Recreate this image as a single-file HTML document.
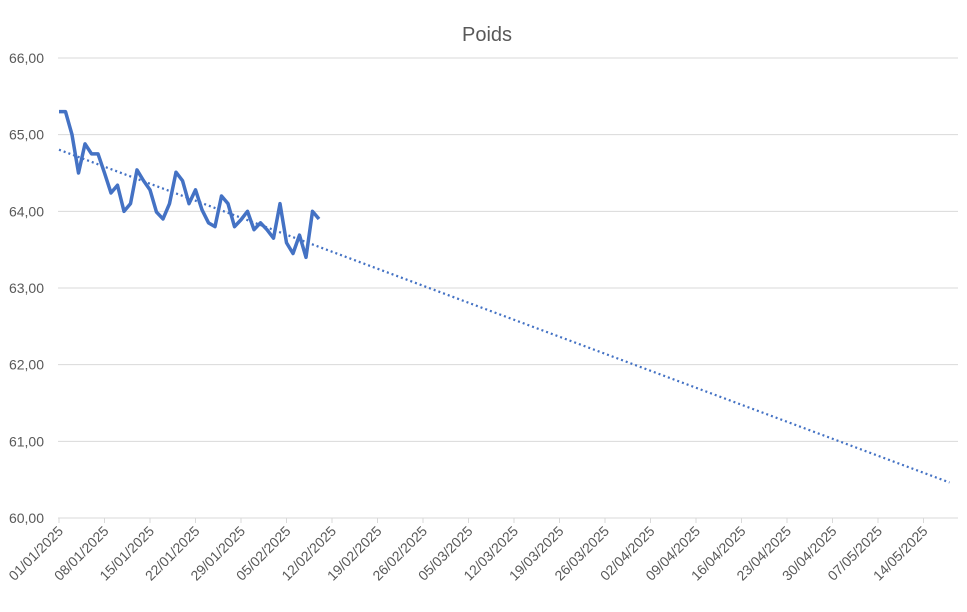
<!DOCTYPE html>
<html><head><meta charset="utf-8"><style>
body{margin:0;background:#fff;}
svg{display:block;font-family:"Liberation Sans",sans-serif;}
</style></head><body>
<svg id="chart" width="967" height="612">
<text x="487" y="41" text-anchor="middle" font-size="20" fill="#595959">Poids</text>
<g id="grid"></g><g id="xaxis"></g><g id="series"></g>
</svg>
<script>
const yTicks=[60,61,62,63,64,65,66];
const weights=[65.3,65.3,65.0,64.5,64.88,64.75,64.75,64.5,64.24,64.34,64.0,64.1,64.54,64.4,64.28,63.99,63.9,64.1,64.51,64.4,64.1,64.28,64.02,63.85,63.8,64.2,64.1,63.8,63.89,64.0,63.76,63.85,63.76,63.65,64.1,63.59,63.45,63.69,63.4,64.0,63.9];
const xTickLabels=["01/01/2025","08/01/2025","15/01/2025","22/01/2025","29/01/2025","05/02/2025","12/02/2025","19/02/2025","26/02/2025","05/03/2025","12/03/2025","19/03/2025","26/03/2025","02/04/2025","09/04/2025","16/04/2025","23/04/2025","30/04/2025","07/05/2025","14/05/2025"];
const trendEndDay=137;
const NS="http://www.w3.org/2000/svg";
const x=d=>59+d*6.5;
const y=v=>518-(v-60)*76.67;
function mk(t,a,p){const e=document.createElementNS(NS,t);for(const k in a)e.setAttribute(k,a[k]);p.appendChild(e);return e;}
const grid=document.getElementById('grid');
yTicks.forEach(v=>{
 const l=mk('line',{x1:58,x2:958,y1:y(v),y2:y(v),stroke:'#d9d9d9','stroke-width':1},grid);
 
 
 const t=mk('text',{x:44,y:y(v)+5,'text-anchor':'end','font-size':14,fill:'#595959'},grid);
 t.textContent=v.toFixed(2).replace('.',',');
 
 
});
const xa=document.getElementById('xaxis');
xTickLabels.forEach((s,i)=>{
 const px=x(i*7);
 const tk=mk('line',{x1:px,x2:px,y1:518,y2:523,stroke:'#d9d9d9'},xa);
 
 
 const t=mk('text',{x:px+5,y:532,'text-anchor':'end','font-size':14,fill:'#595959',transform:`rotate(-45 ${px+5} 532)`},xa);
 t.textContent=s;
 
 
});
const n=weights.length;let sx=0,sy=0,sxx=0,sxy=0;
weights.forEach((v,i)=>{sx+=i;sy+=v;sxx+=i*i;sxy+=i*v;});
const b=(n*sxy-sx*sy)/(n*sxx-sx*sx),a=(sy-b*sx)/n;
const ser=document.getElementById('series');
const tr=mk('line',{x1:x(0),y1:y(a),x2:x(trendEndDay),y2:y(a+b*trendEndDay),stroke:'#4472c4','stroke-width':2.2,'stroke-dasharray':'2 3'},ser);


const pl=mk('polyline',{points:weights.map((v,i)=>x(i)+','+y(v)).join(' '),fill:'none',stroke:'#4472c4','stroke-width':3.5,'stroke-linejoin':'round'},ser);


</script>
</body></html>
